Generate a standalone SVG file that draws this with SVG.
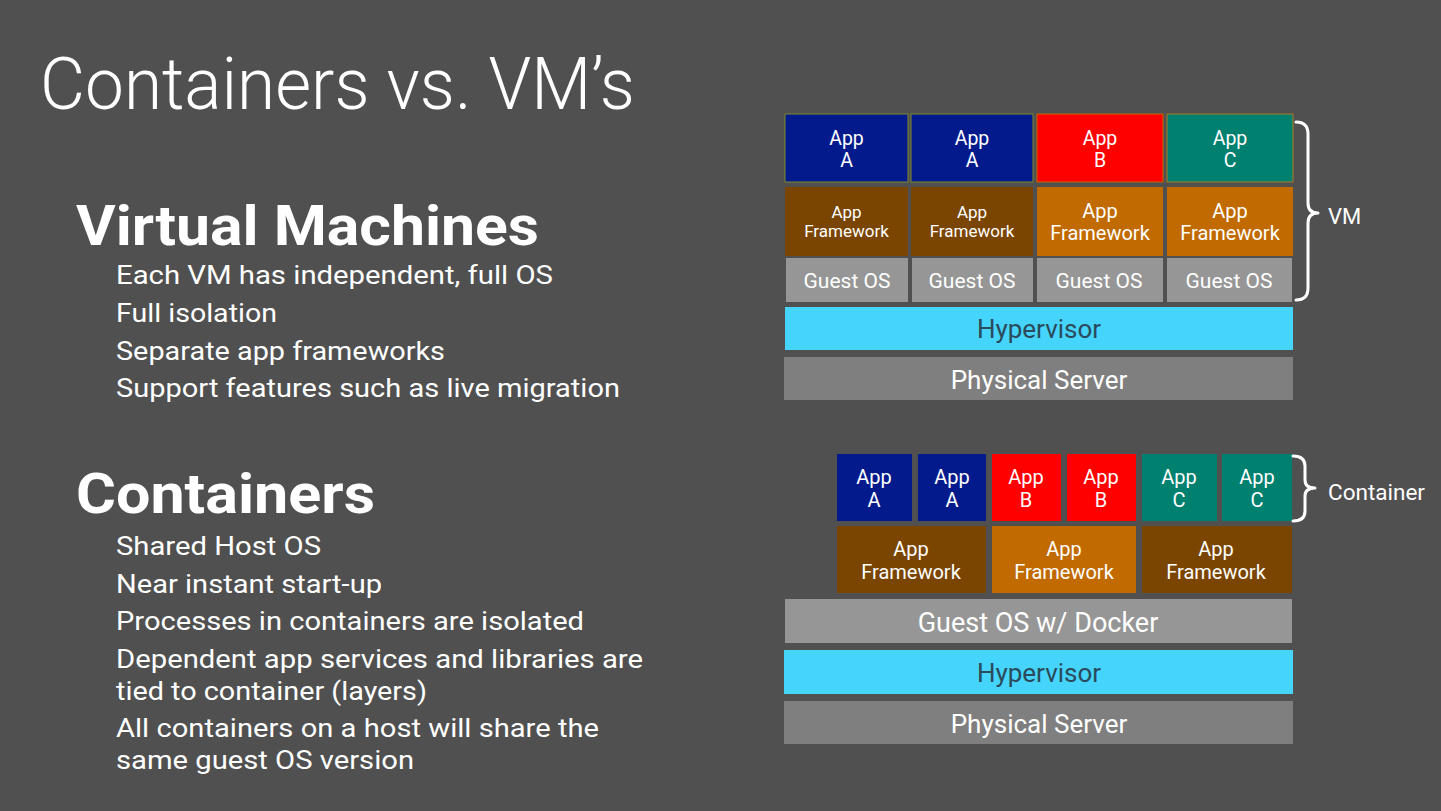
<svg xmlns="http://www.w3.org/2000/svg" width="1441" height="811" viewBox="0 0 1441 811">
<style>
.t{font-family:Roboto,"Liberation Sans",sans-serif;fill:#ffffff}
.title{font-weight:300;font-size:72px}
.h{font-weight:700;font-size:56px}
.b{font-size:26px}
.c{text-anchor:middle;font-family:Roboto,"Liberation Sans",sans-serif;fill:#ffffff}
.s19{font-size:19.5px}
.s20{font-size:20px}
.s16{font-size:17px}
.s21{font-size:21px}
.s26{font-size:26px}
.s27{font-size:27px}
.dark{fill:#2b4a5a}
.appA{fill:#021a8c}
.appB{fill:#ff0000}
.appC{fill:#00806f}
.fwD{fill:#7a4500}
.fwO{fill:#c06a00}
.gos{fill:#969696}
.hyp{fill:#45d4fc}
.phy{fill:#7f7f7f}
.brace{fill:none;stroke:#ffffff;stroke-width:3;stroke-linecap:round;stroke-linejoin:round}
</style>
<rect width="1441" height="811" fill="#505050"/>

<g id="left-text">
<text class="t title" x="40" y="109" textLength="595" lengthAdjust="spacingAndGlyphs">Containers vs. VM’s</text>
<text class="t h" x="76" y="245" textLength="463" lengthAdjust="spacingAndGlyphs">Virtual Machines</text>
<text class="t b" x="116" y="284" textLength="437" lengthAdjust="spacingAndGlyphs">Each VM has independent, full OS</text>
<text class="t b" x="116" y="322" textLength="161" lengthAdjust="spacingAndGlyphs">Full isolation</text>
<text class="t b" x="116" y="360" textLength="329" lengthAdjust="spacingAndGlyphs">Separate app frameworks</text>
<text class="t b" x="116" y="397" textLength="504" lengthAdjust="spacingAndGlyphs">Support features such as live migration</text>
<text class="t h" x="76" y="513" textLength="299" lengthAdjust="spacingAndGlyphs">Containers</text>
<text class="t b" x="116" y="555" textLength="205" lengthAdjust="spacingAndGlyphs">Shared Host OS</text>
<text class="t b" x="116" y="593" textLength="266" lengthAdjust="spacingAndGlyphs">Near instant start-up</text>
<text class="t b" x="116" y="630" textLength="468" lengthAdjust="spacingAndGlyphs">Processes in containers are isolated</text>
<text class="t b" x="116" y="668" textLength="527" lengthAdjust="spacingAndGlyphs">Dependent app services and libraries are</text>
<text class="t b" x="116" y="700" textLength="311" lengthAdjust="spacingAndGlyphs">tied to container (layers)</text>
<text class="t b" x="116" y="737" textLength="483" lengthAdjust="spacingAndGlyphs">All containers on a host will share the</text>
<text class="t b" x="116" y="769" textLength="298" lengthAdjust="spacingAndGlyphs">same guest OS version</text>
</g>

<g id="vm-stack">
<g id="vm-appA1"><rect class="appA" x="785" y="114" width="123" height="68" stroke="#7d8a2a" stroke-width="1"/><text class="c s19" x="846.5" y="145">App</text><text class="c s19" x="846.5" y="167">A</text></g>
<g id="vm-appA2"><rect class="appA" x="911" y="114" width="122" height="68" stroke="#7d8a2a" stroke-width="1"/><text class="c s19" x="972" y="145">App</text><text class="c s19" x="972" y="167">A</text></g>
<g id="vm-appB"><rect class="appB" x="1037" y="114" width="126" height="68" stroke="#c06a00" stroke-width="1"/><text class="c s19" x="1100" y="145">App</text><text class="c s19" x="1100" y="167">B</text></g>
<g id="vm-appC"><rect class="appC" x="1167" y="114" width="126" height="68" stroke="#b07a20" stroke-width="1"/><text class="c s19" x="1230" y="145">App</text><text class="c s19" x="1230" y="167">C</text></g>

<g id="vm-fw1"><rect class="fwD" x="785" y="187" width="123" height="69"/><text class="c s16" x="846.5" y="218">App</text><text class="c s16" x="846.5" y="237">Framework</text></g>
<g id="vm-fw2"><rect class="fwD" x="911" y="187" width="122" height="69"/><text class="c s16" x="972" y="218">App</text><text class="c s16" x="972" y="237">Framework</text></g>
<g id="vm-fw3"><rect class="fwO" x="1037" y="187" width="126" height="69"/><text class="c s20" x="1100" y="218">App</text><text class="c s20" x="1100" y="240">Framework</text></g>
<g id="vm-fw4"><rect class="fwO" x="1167" y="187" width="126" height="69"/><text class="c s20" x="1230" y="218">App</text><text class="c s20" x="1230" y="240">Framework</text></g>

<g id="vm-os1"><rect class="gos" x="786" y="258" width="122" height="44"/><text class="c s21" x="847" y="288">Guest OS</text></g>
<g id="vm-os2"><rect class="gos" x="912" y="258" width="121" height="44"/><text class="c s21" x="972" y="288">Guest OS</text></g>
<g id="vm-os3"><rect class="gos" x="1037" y="258" width="126" height="44"/><text class="c s21" x="1099" y="288">Guest OS</text></g>
<g id="vm-os4"><rect class="gos" x="1167" y="258" width="125" height="44"/><text class="c s21" x="1229" y="288">Guest OS</text></g>

<g id="vm-hypervisor"><rect class="hyp" x="785" y="307" width="508" height="43"/><text class="c s26 dark" x="1039" y="338">Hypervisor</text></g>
<g id="vm-physical"><rect class="phy" x="784" y="357" width="509" height="43"/><text class="c s26" x="1039" y="389">Physical Server</text></g>
</g>

<g id="ct-stack">
<g id="ct-appA1"><rect class="appA" x="837" y="454" width="75" height="67"/><text class="c s20" x="874" y="484">App</text><text class="c s20" x="874" y="507">A</text></g>
<g id="ct-appA2"><rect class="appA" x="918" y="454" width="68" height="67"/><text class="c s20" x="952" y="484">App</text><text class="c s20" x="952" y="507">A</text></g>
<g id="ct-appB1"><rect class="appB" x="992" y="454" width="69" height="67"/><text class="c s20" x="1026" y="484">App</text><text class="c s20" x="1026" y="507">B</text></g>
<g id="ct-appB2"><rect class="appB" x="1067" y="454" width="69" height="67"/><text class="c s20" x="1101" y="484">App</text><text class="c s20" x="1101" y="507">B</text></g>
<g id="ct-appC1"><rect class="appC" x="1142" y="454" width="75" height="67"/><text class="c s20" x="1179" y="484">App</text><text class="c s20" x="1179" y="507">C</text></g>
<g id="ct-appC2"><rect class="appC" x="1222" y="454" width="70" height="67"/><text class="c s20" x="1257" y="484">App</text><text class="c s20" x="1257" y="507">C</text></g>

<g id="ct-fw1"><rect class="fwD" x="837" y="526" width="149" height="67"/><text class="c s20" x="911" y="556">App</text><text class="c s20" x="911" y="579">Framework</text></g>
<g id="ct-fw2"><rect class="fwO" x="992" y="526" width="144" height="67"/><text class="c s20" x="1064" y="556">App</text><text class="c s20" x="1064" y="579">Framework</text></g>
<g id="ct-fw3"><rect class="fwD" x="1142" y="526" width="150" height="67"/><text class="c s20" x="1216" y="556">App</text><text class="c s20" x="1216" y="579">Framework</text></g>

<g id="ct-os"><rect class="gos" x="785" y="599" width="507" height="44"/><text class="c s27" x="1038" y="632">Guest OS w/ Docker</text></g>
<g id="ct-hypervisor"><rect class="hyp" x="784" y="650" width="509" height="44"/><text class="c s26 dark" x="1039" y="682">Hypervisor</text></g>
<g id="ct-physical"><rect class="phy" x="784" y="701" width="509" height="43"/><text class="c s26" x="1039" y="733">Physical Server</text></g>
</g>

<g id="connectors">
<path class="brace" d="M1296,122 Q1308,122 1308,134 L1308,203 Q1308,213 1318,213 Q1308,213 1308,223 L1308,288 Q1308,300 1296,300"/>
<path class="brace" d="M1293,456 Q1305,456 1305,466 L1305,480 Q1305,488 1315,488 Q1305,488 1305,496 L1305,511 Q1305,521 1293,521"/>
</g>
<g id="labels">
<text class="t" x="1328" y="224" font-size="22">VM</text>
<text class="t" x="1328" y="500" font-size="22.5">Container</text>
</g>
</svg>
